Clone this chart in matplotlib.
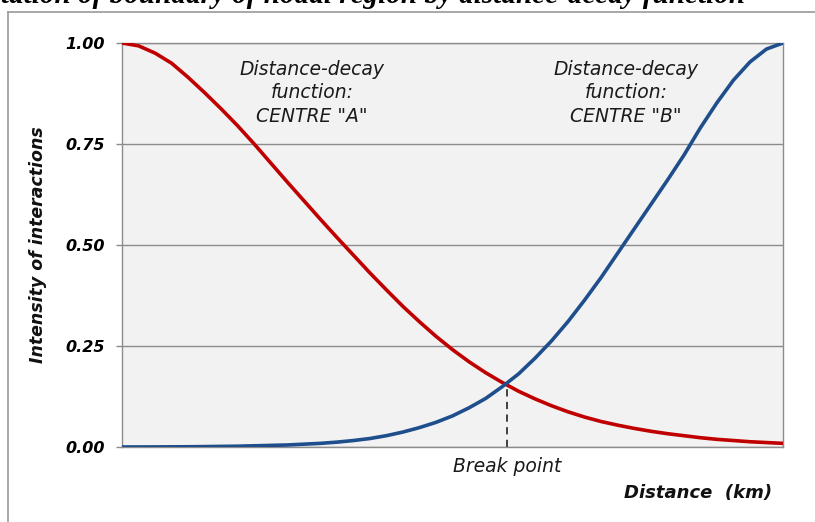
#!/usr/bin/env python
# -*- coding: utf-8 -*-
"""Boundary of a nodal region from two distance-decay curves"""

import matplotlib
matplotlib.use("Agg")
import matplotlib.pyplot as plt
from matplotlib.lines import Line2D

# distance along the line between the two centres (arbitrary units, no ticks)
distance = [0, 0.5, 1, 1.5, 2, 2.5, 3, 3.5, 4, 4.5, 5, 5.5, 6, 6.5, 7, 7.5,
            8, 8.5, 9, 9.5, 10, 10.5, 11, 11.5, 12, 12.5, 13, 13.5, 14, 14.5,
            15, 15.5, 16, 16.5, 17, 17.5, 18, 18.5, 19, 19.5, 20]

# intensity of interactions with centre A (decays away from the left end)
centre_a = [1.000, 0.993, 0.975, 0.950, 0.915, 0.877, 0.837, 0.795, 0.750,
            0.703, 0.656, 0.610, 0.564, 0.519, 0.475, 0.431, 0.389, 0.348,
            0.310, 0.274, 0.241, 0.211, 0.184, 0.160, 0.138, 0.119, 0.102,
            0.087, 0.074, 0.063, 0.054, 0.046, 0.039, 0.033, 0.028, 0.023,
            0.019, 0.016, 0.013, 0.011, 0.009]

# intensity of interactions with centre B (decays away from the right end)
centre_b = [0.000, 0.0001, 0.0002, 0.0004, 0.0006, 0.001, 0.0015, 0.002,
            0.003, 0.004, 0.005, 0.007, 0.009, 0.012, 0.016, 0.021, 0.028,
            0.037, 0.048, 0.061, 0.077, 0.097, 0.120, 0.149, 0.181, 0.220,
            0.263, 0.311, 0.364, 0.420, 0.480, 0.540, 0.600, 0.660, 0.722,
            0.790, 0.852, 0.908, 0.953, 0.985, 1.000]

# where the two curves cross
break_distance = 11.65
break_value = 0.158

y_ticks = [0.0, 0.25, 0.5, 0.75, 1.0]
y_tick_labels = ["0.00", "0.25", "0.50", "0.75", "1.00"]

W, H = 815, 522
fig = plt.figure(figsize=(W / 100, H / 100), dpi=100)
ax = fig.add_axes([122 / W, 1 - 447 / H, (783 - 122) / W, (447 - 43) / H])

ax.set_facecolor("#f2f2f2")
for side in ("left", "right", "top", "bottom"):
    ax.spines[side].set_color("#8c8c8c")
    ax.spines[side].set_linewidth(1.0)

# the two distance-decay curves
ax.plot(distance, centre_a, color="#c00000", lw=2.6, solid_joinstyle="round", zorder=3)
ax.plot(distance, centre_b, color="#1f4e8c", lw=2.6, solid_joinstyle="round", zorder=3)

# break point marker
ax.plot([break_distance, break_distance], [0, break_value], color="#333333",
        lw=1.3, ls=(0, (4, 3)), zorder=2)

ax.set_xlim(distance[0], distance[-1])
ax.set_ylim(0, 1)
ax.set_xticks([])
ax.set_yticks(y_ticks)
ax.set_yticklabels(y_tick_labels, fontsize=11.5, fontweight="bold", style="italic")
ax.tick_params(axis="y", length=4, width=1, color="#8c8c8c", pad=8.5)
ax.yaxis.grid(True, color="#8c8c8c", lw=1.0)
ax.set_axisbelow(True)

# labels inside the plot
for xc, label in ((312, 'CENTRE "A"'), (626, 'CENTRE "B"')):
    fig.text(xc / W, 1 - 93 / H, "Distance-decay\nfunction:\n" + label,
             ha="center", va="center", fontsize=13.5, style="italic",
             color="#1a1a1a", linespacing=1.3)

fig.text(507 / W, 1 - 467 / H, "Break point", ha="center", va="center",
         fontsize=13.5, style="italic", color="#1a1a1a")
fig.text(772 / W, 1 - 493 / H, "Distance  (km)", ha="right", va="center",
         fontsize=13, style="italic", fontweight="bold", color="#111111")
fig.text(38 / W, 1 - 245 / H, "Intensity of interactions", rotation=90,
         ha="center", va="center", fontsize=12.5, style="italic",
         fontweight="bold", color="#111111")

# title, cut off at the top of the picture
fig.text(745 / W, 1 - 3 / H,
         "Delimitation of boundary of nodal region by distance-decay function",
         ha="right", va="baseline", fontsize=21, family="Liberation Serif",
         style="italic", fontweight="bold", color="black")

# frame of the surrounding box
fig.add_artist(Line2D([8 / W, 1], [1 - 12 / H, 1 - 12 / H], transform=fig.transFigure,
                      color="#9a9a9a", lw=1.2))
fig.add_artist(Line2D([8 / W, 8 / W], [0, 1 - 12 / H], transform=fig.transFigure,
                      color="#9a9a9a", lw=1.2))

fig.savefig("out.png", dpi=100)
